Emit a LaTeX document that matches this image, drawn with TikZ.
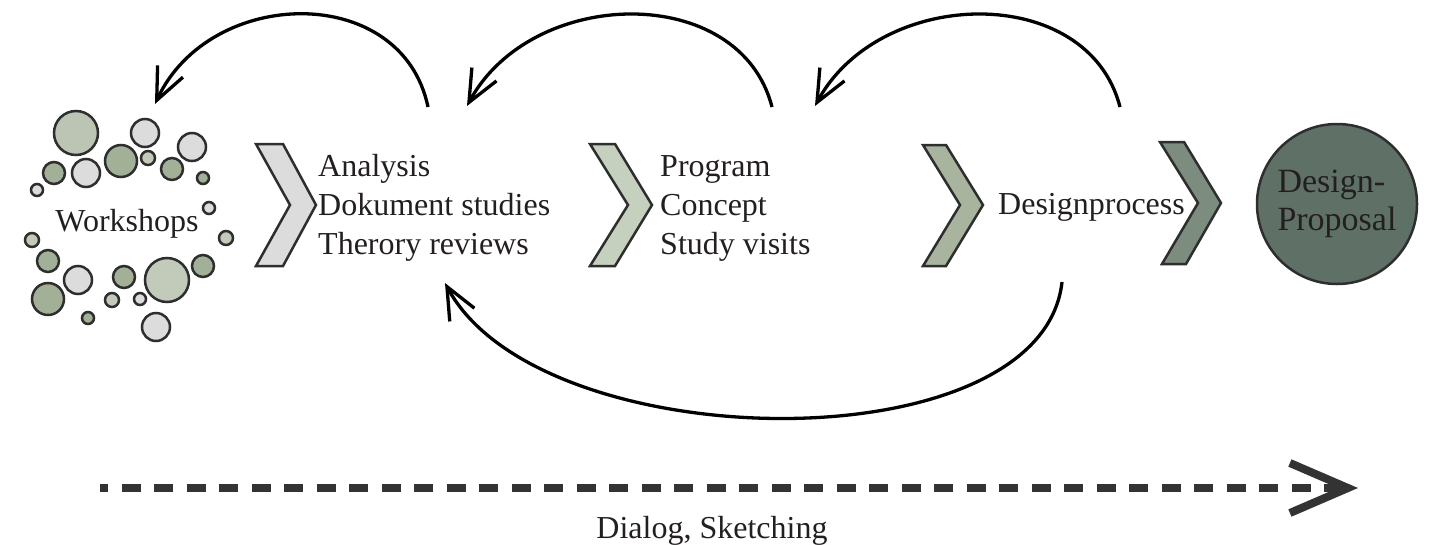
\documentclass[tikz,border=0pt]{standalone}
\usepackage{fontspec}
\setmainfont{Liberation Serif}
\usetikzlibrary{arrows.meta}
\definecolor{ink}{HTML}{231F20}
\definecolor{edge}{HTML}{2E2E2E}
\definecolor{bgrey}{HTML}{DCDCDC}
\definecolor{blgreen}{HTML}{C2CAB9}
\definecolor{bmgreen}{HTML}{A3B098}
\definecolor{bbig}{HTML}{BCC5B3}
\definecolor{chA}{HTML}{DCDCDC}
\definecolor{chB}{HTML}{C6D0BF}
\definecolor{chC}{HTML}{A8B49E}
\definecolor{chD}{HTML}{7C8C7F}
\definecolor{prop}{HTML}{5F7066}
\definecolor{dash}{HTML}{333333}
\begin{document}
\begin{tikzpicture}[x=1pt,y=-1pt,
  txt/.style={inner sep=0pt, text=ink, font=\fontsize{32}{39}\selectfont, align=left},
  bubble/.style={draw=edge, line width=2.5pt},
  chevron/.style={draw=edge, line width=2.5pt, line join=miter},
  loopback/.style={draw=black, line width=3.3pt, -{Straight Barb[length=32pt,width=28pt]}},
  flow/.style={draw=dash, line width=8pt, dash pattern=on 19pt off 13.5pt, dash phase=11pt,
    -{Straight Barb[length=58pt,width=50pt,line width=8pt]}}]
\useasboundingbox (0,0) rectangle (1437,544);
% bubbles
\foreach \x/\y/\r/\c in {76/133/22/bbig, 145/133/14/bgrey, 192/147/14/bgrey, 54/173/11/bmgreen,
  86/173/14/bgrey, 121/161/16/bmgreen, 148/158/7/blgreen, 172/169/11/bmgreen, 203/178/6/bmgreen,
  37/190/6/bgrey, 209/208/6/bgrey, 32/240/7/blgreen, 226/238/7/blgreen, 48/261/11/bmgreen,
  78/280/14/bgrey, 124/277/11/bmgreen, 167/280/22/blgreen, 203/266/11/bmgreen, 48/299/16/bmgreen,
  112/300/7/blgreen, 140/299/6/bgrey, 88/318/6/bmgreen, 156/327/14/bgrey}
  \filldraw[bubble, fill=\c] (\x,\y) circle[radius=\r];
\node[txt, anchor=base] (workshops) at (127,231) {Workshops};
% chevrons
\filldraw[chevron, fill=chA] (256,144) -- (283,144) -- (316,205) -- (283,266) -- (256,266) -- (290,205) -- cycle;
\filldraw[chevron, fill=chB] (590,144) -- (615,144) -- (652,205) -- (615,266) -- (590,266) -- (628,205) -- cycle;
\filldraw[chevron, fill=chC] (923,145) -- (946,145) -- (983,205) -- (946,266) -- (923,266) -- (960,205) -- cycle;
\filldraw[chevron, fill=chD] (1160,142) -- (1184,142) -- (1221,203) -- (1186,264) -- (1162,264) -- (1198,203) -- cycle;
% texts
\node[txt, anchor=west] (analysis) at (318,208) {Analysis\\Dokument studies\\Therory reviews};
\node[txt, anchor=west] (program) at (660,208) {Program\\Concept\\Study visits};
\node[txt, anchor=base west] (designprocess) at (998,214) {Designprocess};
\node[circle, draw=edge, line width=2.5pt, fill=prop, minimum size=160pt, inner sep=0pt,
  text=ink, font=\fontsize{34}{38}\selectfont, align=left] (proposal) at (1337,204) {Design-\\Proposal};
% loop-back arcs
\coordinate (a1s) at (428,107); \coordinate (a1e) at (155,104);
\coordinate (a2s) at (772,107); \coordinate (a2e) at (467,106);
\coordinate (a3s) at (1120,107); \coordinate (a3e) at (815,106);
\coordinate (bs) at (1062,282); \coordinate (be) at (445,283);
\draw[loopback] (a1s) .. controls (402,-18) and (210,-14) .. (a1e);
\draw[loopback] (a2s) .. controls (740,-18) and (532,-14) .. (a2e);
\draw[loopback] (a3s) .. controls (1088,-18) and (880,-14) .. (a3e);
\draw[loopback] (bs) .. controls (1042,466) and (540,460) .. (be);
% dialog arrow
\coordinate (ds) at (100,488); \coordinate (de) at (1358,488);
\draw[flow] (ds) -- (de);
\node[txt, anchor=base] (dialog) at (712,538) {Dialog, Sketching};
\end{tikzpicture}
\end{document}
